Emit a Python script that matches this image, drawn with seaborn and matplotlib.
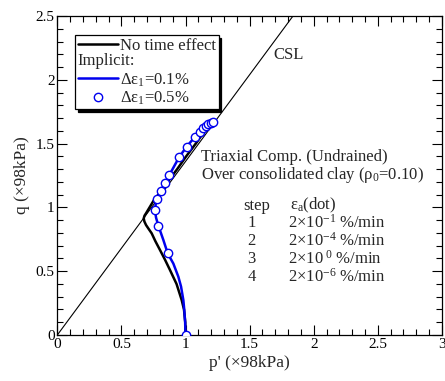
import matplotlib
matplotlib.use("Agg")
import matplotlib.pyplot as plt
import matplotlib.text as mtext
from matplotlib.lines import Line2D
from matplotlib.ticker import MultipleLocator
import seaborn as sns
import pandas as pd

# Critical state line slope
csl_slope = 1.36

# Effective stress paths (p', q) in units of 98 kPa
no_time_p = [1.00, 0.998, 0.988, 0.970, 0.930, 0.879, 0.840, 0.801, 0.765, 0.736,
             0.710, 0.692, 0.679, 0.674, 0.680, 0.692, 0.723, 0.754, 0.800, 0.860,
             0.935, 1.005, 1.080, 1.150, 1.180]
no_time_q = [0.00, 0.100, 0.200, 0.274, 0.400, 0.509, 0.590, 0.666, 0.735, 0.797,
             0.835, 0.862, 0.890, 0.914, 0.935, 0.954, 1.006, 1.058, 1.115, 1.200,
             1.300, 1.400, 1.500, 1.600, 1.640]

implicit01_p = [1.00, 0.997, 0.990, 0.983, 0.965, 0.944, 0.905, 0.861, 0.827, 0.788,
                0.770, 0.762, 0.768, 0.780, 0.807, 0.840, 0.874, 0.952, 1.009, 1.074,
                1.113, 1.139, 1.152, 1.170, 1.191, 1.212]
implicit01_q = [0.00, 0.100, 0.200, 0.274, 0.380, 0.457, 0.560, 0.640, 0.745, 0.857,
                0.920, 0.980, 1.030, 1.066, 1.129, 1.194, 1.254, 1.397, 1.476, 1.554,
                1.593, 1.620, 1.638, 1.654, 1.664, 1.666]

implicit05_p = [1.00, 0.866, 0.788, 0.762, 0.780, 0.807, 0.840, 0.874, 0.952, 1.009,
                1.074, 1.113, 1.139, 1.157, 1.175, 1.195, 1.215]
implicit05_q = [0.00, 0.640, 0.857, 0.980, 1.066, 1.129, 1.194, 1.254, 1.397, 1.476,
                1.554, 1.593, 1.620, 1.640, 1.655, 1.665, 1.670]

# Axis ticks
x_ticks = [0, 0.5, 1, 1.5, 2, 2.5, 3]
x_tick_labels = ["0", "0.5", "1", "1.5", "2", "2.5", "3"]
y_ticks = [0, 0.5, 1, 1.5, 2, 2.5]
y_tick_labels = ["0", "0.5", "1", "1.5", "2", "2.5"]

# Loading steps and axial strain rates
steps = ["1", "2", "3", "4"]
rate_labels = [r"2×10$^{-1}$ %/min", r"2×10$^{-4}$ %/min",
               r"2×10$^{\ 0}$ %/min", r"2×10$^{-6}$ %/min"]

sns.set_theme(style="ticks")
plt.rcParams["font.family"] = ["Liberation Serif", "DejaVu Serif"]
plt.rcParams["mathtext.fontset"] = "custom"
plt.rcParams["mathtext.rm"] = "Liberation Serif"
plt.rcParams["mathtext.it"] = "Liberation Serif:italic"
plt.rcParams["mathtext.default"] = "regular"

fig = plt.figure(figsize=(4.45, 3.81), dpi=100)
ax = fig.add_axes([0.1288, 0.1207, 0.8643, 0.8373])

df_nt = pd.DataFrame({"p": no_time_p, "q": no_time_q})
df_01 = pd.DataFrame({"p": implicit01_p, "q": implicit01_q})
df_05 = pd.DataFrame({"p": implicit05_p, "q": implicit05_q})

ax.axline((0, 0), slope=csl_slope, color="black", lw=0.8, zorder=1)
sns.lineplot(data=df_nt, x="p", y="q", sort=False, estimator=None,
             color="black", lw=1.8, ax=ax, zorder=2)
sns.lineplot(data=df_01, x="p", y="q", sort=False, estimator=None,
             color="#0000ee", lw=1.8, ax=ax, zorder=3)
ax.plot(df_05["p"], df_05["q"], ls="none", marker="o", ms=6,
        mfc="white", mec="#0000ee", mew=1.0, zorder=4)

ax.set_xlim(0, 3)
ax.set_ylim(0, 2.5)
ax.set_xticks(x_ticks)
ax.set_xticklabels(x_tick_labels)
ax.set_yticks(y_ticks)
ax.set_yticklabels(y_tick_labels)
ax.xaxis.set_minor_locator(MultipleLocator(0.1))
ax.yaxis.set_minor_locator(MultipleLocator(0.1))
ax.tick_params(which="both", direction="in", top=True, right=True,
               labelsize=11, colors="black", pad=2)
ax.tick_params(which="major", length=7, width=0.8)
ax.tick_params(which="minor", length=4, width=0.8)
for s in ax.spines.values():
    s.set_linewidth(0.9)
    s.set_color("black")

ax.set_xlabel("p' (×98kPa)", fontsize=12.5, labelpad=3)
ax.set_ylabel("q (×98kPa)", fontsize=12.5, labelpad=4)

# Annotations
ax.text(1.683, 2.194, "CSL", fontsize=12, va="center", ha="left")
ax.text(1.122, 1.397, "Triaxial Comp. (Undrained)", fontsize=12, va="center", ha="left")
ax.text(1.122, 1.254, "Over consolidated clay (ρ$_0$=0.10)", fontsize=12,
        va="center", ha="left")
ax.text(1.448, 1.013, "step", fontsize=12, va="center", ha="left")
ax.text(1.815, 1.013, "ε$_a$(dot)", fontsize=12, va="center", ha="left")
for i, (s, r) in enumerate(zip(steps, rate_labels)):
    y = 0.878 - i * 0.140
    ax.text(1.516, y, s, fontsize=12, va="center", ha="center")
    ax.text(1.799, y, r, fontsize=12, va="center", ha="left")


# Legend with a plain section heading row
class SectionHeading:
    def __init__(self, text):
        self.text = text


class SectionHeadingHandler:
    def legend_artist(self, legend, orig_handle, fontsize, handlebox):
        t = mtext.Text(0, handlebox.height / 2 - handlebox.ydescent,
                       orig_handle.text, fontsize=fontsize,
                       va="center", ha="left",
                       family=["Liberation Serif", "DejaVu Serif"])
        handlebox.add_artist(t)
        return t


handles = [
    Line2D([], [], color="black", lw=1.8),
    SectionHeading("Implicit:"),
    Line2D([], [], color="#0000ee", lw=1.8),
    Line2D([], [], ls="none", marker="o", ms=6, mfc="white", mec="#0000ee", mew=1.0),
]
labels = ["No time effect", "", "Δε$_1$=0.1%", "Δε$_1$=0.5%"]
leg = ax.legend(handles, labels, loc="upper left", bbox_to_anchor=(0.046, 0.940),
                borderaxespad=0, fontsize=12, frameon=True, fancybox=False,
                shadow={"color": "black", "alpha": 1.0},
                handlelength=2.4, handletextpad=0.15, labelspacing=0.05,
                borderpad=0.15,
                handler_map={SectionHeading: SectionHeadingHandler()})
leg.get_frame().set_edgecolor("black")
leg.get_frame().set_linewidth(0.9)
leg.get_frame().set_alpha(1.0)

fig.savefig("out.png", dpi=100)
